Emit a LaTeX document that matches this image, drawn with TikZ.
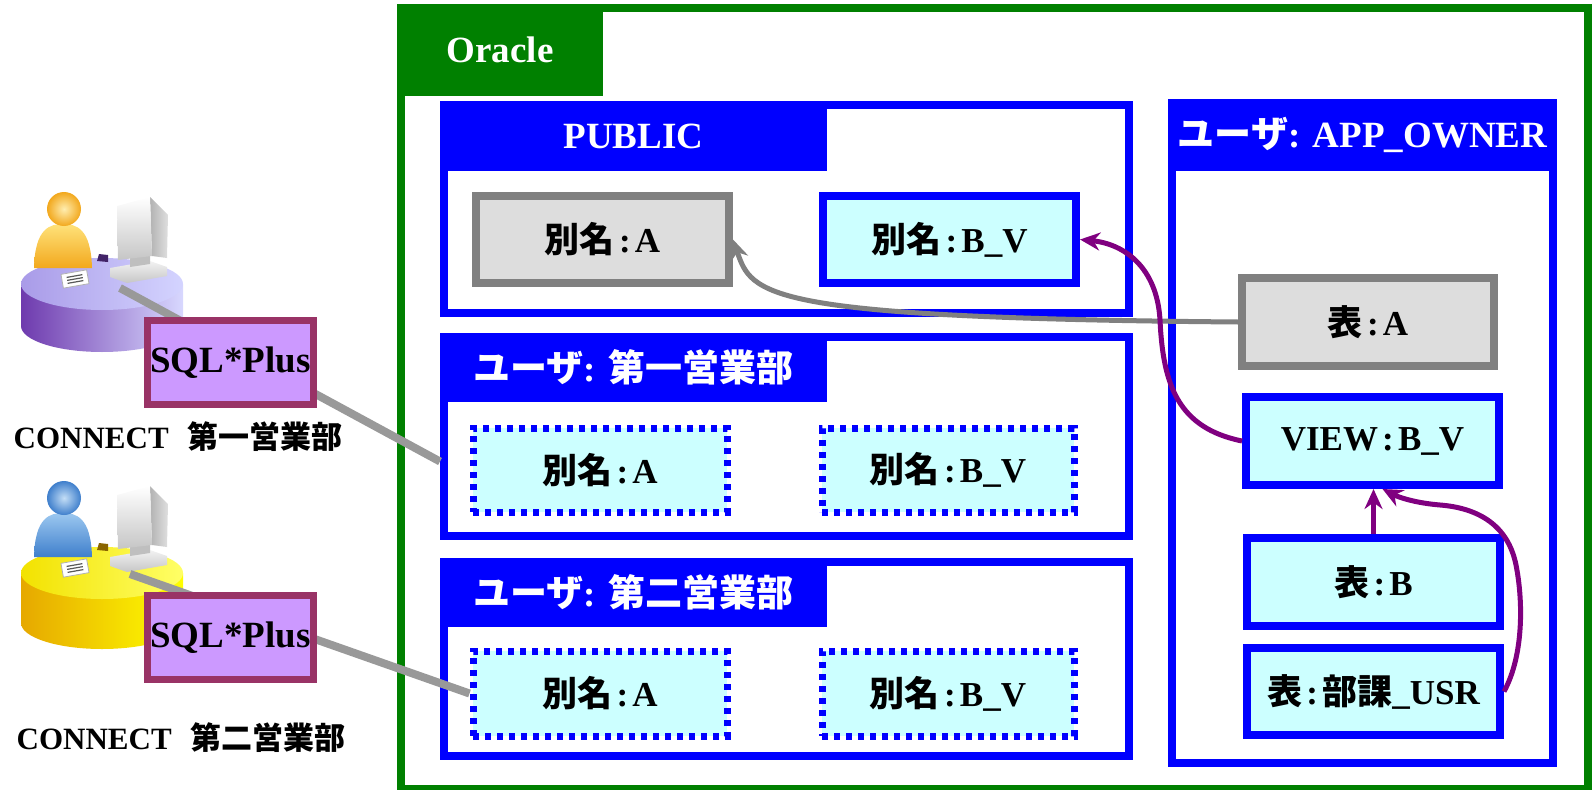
\documentclass[tikz,border=0pt]{standalone}
\usepackage{fontspec}
\setmainfont{Liberation Serif}
\newfontfamily\jp{Noto Sans CJK JP}
\usetikzlibrary{arrows.meta}

\definecolor{oragreen}{HTML}{008000}
\definecolor{schemablue}{HTML}{0000FF}
\definecolor{aliasfill}{HTML}{CCFFFF}
\definecolor{tblfill}{HTML}{DDDDDD}
\definecolor{tbledge}{HTML}{808080}
\definecolor{linkgray}{HTML}{999999}
\definecolor{refpurple}{HTML}{800080}
\definecolor{sqledge}{HTML}{993366}
\definecolor{sqlfill}{HTML}{CC99FF}
% desk colours
\definecolor{deskPa}{HTML}{6E3AAE}
\definecolor{deskPb}{HTML}{D8D8FF}
\definecolor{deskPt}{HTML}{A99BE8}
\definecolor{deskPu}{HTML}{D4D4FF}
\definecolor{deskYa}{HTML}{E6A800}
\definecolor{deskYb}{HTML}{FFFF00}
\definecolor{deskYt}{HTML}{F2E200}
\definecolor{deskYu}{HTML}{FFFF66}
\definecolor{yelA}{HTML}{FFE27A}
\definecolor{yelB}{HTML}{F2A81D}
\definecolor{bluA}{HTML}{9CC8F0}
\definecolor{bluB}{HTML}{3F7FCC}

\newcommand{\cl}{\hspace{0.12em}:\hspace{0.12em}}

\tikzset{
  dbase/.style={draw=oragreen, line width=8pt, inner sep=0pt},
  schema/.style={draw=schemablue, line width=8pt, fill=white, inner sep=0pt},
  tab/.style={anchor=north west, inner sep=0pt, outer sep=0pt, text=white,
    font=\fontsize{37}{40}\selectfont\bfseries},
  alias/.style={draw=schemablue, line width=8pt, fill=aliasfill, inner sep=0pt,
    font=\fontsize{35}{38}\selectfont\bfseries},
  synonym/.style={alias, line width=7pt, dash pattern=on 6pt off 6pt},
  tbl/.style={alias, draw=tbledge, fill=tblfill},
  tool/.style={draw=sqledge, fill=sqlfill, line width=7pt, inner sep=0pt,
    minimum width=166pt, minimum height=84pt,
    font=\fontsize{37}{40}\selectfont\bfseries},
  link/.style={draw=linkgray, line width=8pt},
  ref/.style={draw=refpurple, line width=5pt, -{Stealth[length=20pt,width=18pt]}},
  grayref/.style={ref, draw=tbledge}
}

\begin{document}
\begin{tikzpicture}[x=1pt,y=-1pt]
\useasboundingbox (0,0) rectangle (1594,789);

% database frame
\node[dbase, minimum width=1187pt, minimum height=781pt] (oracle) at (994.5,398.5) {};
\node[tab, fill=oragreen, minimum width=206pt, minimum height=92pt] (oracleTab) at (oracle.north west) {Oracle};

% schemas
\node[schema, minimum width=685pt, minimum height=208pt] (pub) at (786.5,209) {};
\node[tab, fill=schemablue, minimum width=387pt, minimum height=70pt] (pubTab) at (pub.north west) {PUBLIC};
\node[schema, minimum width=685pt, minimum height=199pt] (sales1) at (786.5,436.5) {};
\node[tab, fill=schemablue, minimum width=387pt, minimum height=69pt] (sales1Tab) at (sales1.north west) {{\jp ユーザ}: {\jp 第一営業部}};
\node[schema, minimum width=685pt, minimum height=194pt] (sales2) at (786.5,659) {};
\node[tab, fill=schemablue, minimum width=387pt, minimum height=69pt] (sales2Tab) at (sales2.north west) {{\jp ユーザ}: {\jp 第二営業部}};
\node[schema, minimum width=381pt, minimum height=660pt] (owner) at (1362.5,433) {};
\node[tab, fill=schemablue, minimum width=389pt, minimum height=72pt] (ownerTab) at (owner.north west) {{\jp ユーザ}: APP\_OWNER};

% objects
\node[tbl, minimum width=253pt, minimum height=87pt] (pubA) at (602.5,239.5) {{\jp 別名}\cl A};
\node[alias, minimum width=253pt, minimum height=87pt] (pubBV) at (949.5,239.5) {{\jp 別名}\cl B\_V};
\node[synonym, minimum width=254pt, minimum height=84pt] (sales1A) at (600,470) {{\jp 別名}\cl A};
\node[synonym, minimum width=252pt, minimum height=84pt] (sales1BV) at (948,470) {{\jp 別名}\cl B\_V};
\node[synonym, minimum width=254pt, minimum height=85pt] (sales2A) at (600,693.5) {{\jp 別名}\cl A};
\node[synonym, minimum width=252pt, minimum height=85pt] (sales2BV) at (948,693.5) {{\jp 別名}\cl B\_V};
\node[tbl, minimum width=252pt, minimum height=88pt] (ownA) at (1368,322) {{\jp 表}\cl A};
\node[alias, minimum width=253pt, minimum height=88pt] (ownView) at (1372.5,441) {VIEW\cl B\_V};
\node[alias, minimum width=253pt, minimum height=88pt] (ownB) at (1373.5,582) {{\jp 表}\cl B};
\node[alias, minimum width=253pt, minimum height=87pt] (ownUsr) at (1373.5,691.5) {{\jp 表}\cl{\jp 部課}\_USR};

% references
\draw[grayref] (ownA.west) .. controls (760,318) and (752,295) .. (pubA.east);
\draw[ref] (ownView.west) .. controls (1178,428) and (1163,385) .. (1160,320)
  .. controls (1157,268) and (1125,244) .. (pubBV.east);
\draw[ref] (ownB.north) -- (ownB.north |- ownView.south);
\draw[ref] (ownUsr.east) .. controls (1524,655) and (1523,600) .. (1516,565)
  .. controls (1508,525) and (1478,508) .. (1440,505)
  .. controls (1415,503) and (1398,497) .. ([xshift=10pt]ownView.south);

% client desks
\foreach \dy/\h/\sa/\sb/\ta/\tb/\pa/\pb in
  {0/42/deskPa/deskPb/deskPt/deskPu/yelA/yelB, 289/50/deskYa/deskYb/deskYt/deskYu/bluA/bluB} {
  \begin{scope}[shift={(0,\dy)}]
    \shade[left color=\sa, right color=\sb] (21,284) -- (21,{284+\h})
      arc[start angle=180, end angle=0, x radius=81, y radius=26] -- (183,284) -- cycle;
    \shade[left color=\ta, right color=\tb] (102,284) ellipse[x radius=81, y radius=26];
    \fill[\sa!60!black] (97,261) -- (99,254) -- (108,255) -- (108,262) -- cycle;
    % person
    \shade[top color=\pa, bottom color=\pb] (34,268) .. controls (35,228) and (50,224) .. (63,224)
      .. controls (76,224) and (91,228) .. (92,268) -- cycle;
    \shade[inner color=\pa!60!white, outer color=\pb] (64,209) circle[radius=17];
    % monitor
    \shade[top color=gray!10, bottom color=gray!45] (110,268) -- (150,261) -- (167,267)
      -- (167,276) -- (127,283) -- (110,277) -- cycle;
    \fill[gray!50] (130,255) -- (150,252) -- (150,264) -- (130,267) -- cycle;
    \shade[left color=gray!60, right color=gray!25] (150,197) -- (168,215) -- (167,258) -- (152,256) -- cycle;
    \shade[top color=white, bottom color=gray!45] (117,206) -- (150,197) -- (152,256) -- (118,260) -- cycle;
    % paper
    \begin{scope}[rotate around={10:(75,279)}]
      \fill[white, draw=gray!60, line width=0.8pt] (62,272) rectangle (88,286);
      \foreach \ly in {276,279,282}
        \draw[gray!70!black, line width=1.2pt] (67,\ly) -- (83,\ly);
    \end{scope}
  \end{scope}
}

% connections
\coordinate (pc1) at (120,288);
\coordinate (pc2) at (130,574);
\draw[link] (pc1) -- ([yshift=-25pt]sales1.west);
\draw[link] (pc2) -- (sales2A.west);

\node[tool] (sql1) at (230.5,362.5) {SQL*Plus};
\node[tool] (sql2) at (230.5,637.5) {SQL*Plus};
\node[font=\fontsize{31}{34}\selectfont\bfseries] (conn1) at (178,437) {CONNECT\hspace{0.6em}{\jp 第一営業部}};
\node[font=\fontsize{31}{34}\selectfont\bfseries] (conn2) at (181,738) {CONNECT\hspace{0.6em}{\jp 第二営業部}};
\end{tikzpicture}
\end{document}
